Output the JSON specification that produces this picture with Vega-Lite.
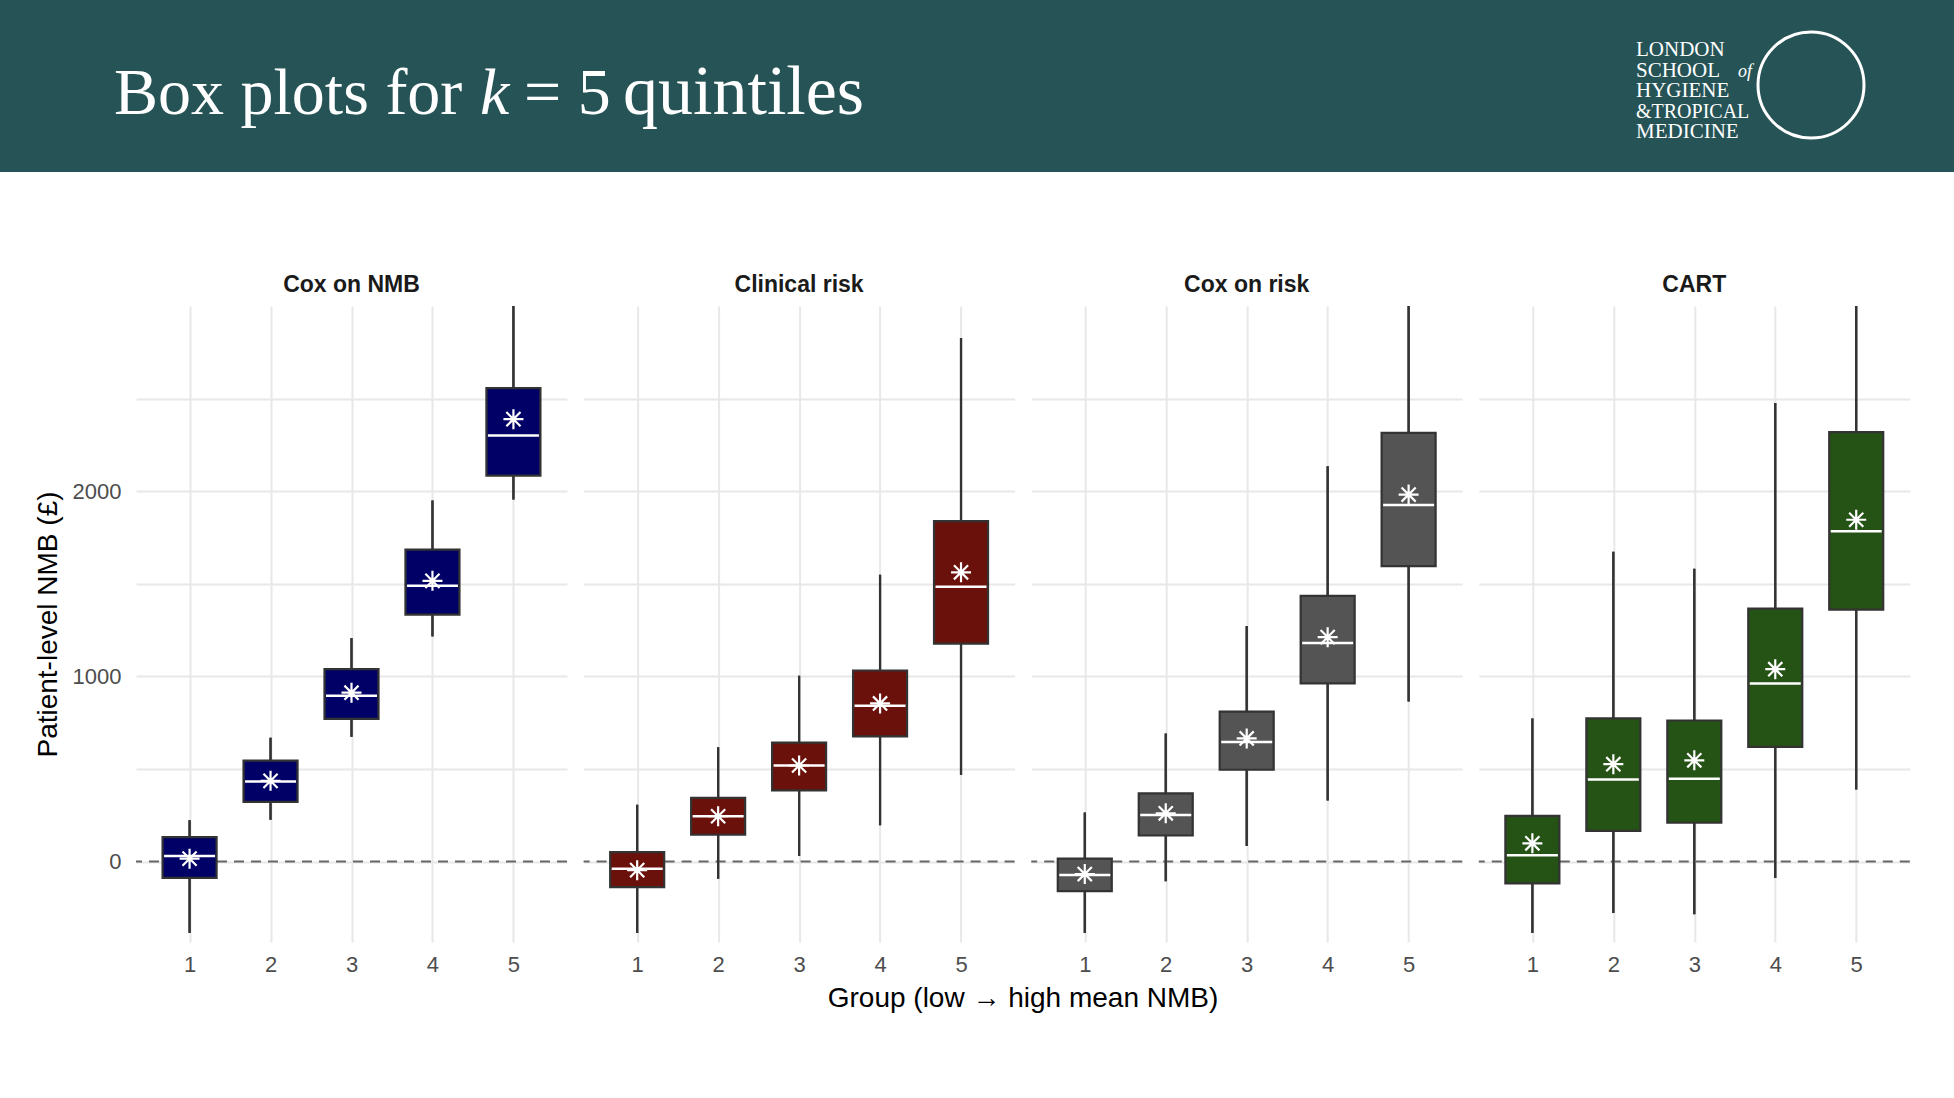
{
  "$schema": "https://vega.github.io/schema/vega-lite/v6.json",
  "padding": 0,
  "background": "white",
  "spacing": 102,
  "config": {
    "view": {"stroke": null},
    "font": "Liberation Sans",
    "axis": {
      "domain": false,
      "ticks": false,
      "tickSize": 0,
      "grid": true,
      "gridColor": "#e8e8e8",
      "gridWidth": 2,
      "labelFont": "Liberation Sans",
      "labelFontSize": 22,
      "labelColor": "#4d4d4d",
      "titleFont": "Liberation Sans",
      "titleFontSize": 28,
      "titleFontWeight": "normal",
      "titleColor": "black"
    },
    "axisY": {"grid": true}
  },
  "vconcat": [
    {
      "width": 1954,
      "height": 172,
      "view": {"fill": "#265356", "stroke": null},
      "data": {"values": [{}]},
      "encoding": {
        "x": {"type": "quantitative", "scale": {"domain": [0, 1954], "range": [0, 1954]}, "axis": null},
        "y": {"type": "quantitative", "scale": {"domain": [0, 172], "range": [0, 172]}, "axis": null}
      },
      "layer": [
        {
          "mark": {"type": "text", "font": "Liberation Serif", "fontSize": 66, "color": "white", "align": "left", "baseline": "alphabetic"},
          "encoding": {"x": {"datum": 114}, "y": {"datum": 114}, "text": {"value": "Box plots for"}}
        },
        {
          "mark": {"type": "text", "font": "Liberation Serif", "fontSize": 66, "fontStyle": "italic", "color": "white", "align": "left", "baseline": "alphabetic"},
          "encoding": {"x": {"datum": 480}, "y": {"datum": 114}, "text": {"value": "k"}}
        },
        {
          "mark": {"type": "text", "font": "Liberation Serif", "fontSize": 66, "color": "white", "align": "left", "baseline": "alphabetic"},
          "encoding": {"x": {"datum": 524}, "y": {"datum": 114}, "text": {"value": "= 5"}}
        },
        {
          "mark": {"type": "text", "font": "Liberation Serif", "fontSize": 70, "color": "white", "align": "left", "baseline": "alphabetic"},
          "encoding": {"x": {"datum": 623}, "y": {"datum": 114}, "text": {"value": "quintiles"}}
        },
        {
          "mark": {"type": "text", "font": "Liberation Serif", "fontSize": 21, "color": "white", "align": "left", "baseline": "alphabetic"},
          "encoding": {"x": {"datum": 1636}, "y": {"datum": 56}, "text": {"value": "LONDON"}}
        },
        {
          "mark": {"type": "text", "font": "Liberation Serif", "fontSize": 21, "color": "white", "align": "left", "baseline": "alphabetic"},
          "encoding": {"x": {"datum": 1636}, "y": {"datum": 76.5}, "text": {"value": "SCHOOL"}}
        },
        {
          "mark": {"type": "text", "font": "Liberation Serif", "fontSize": 18, "fontStyle": "italic", "color": "white", "align": "left", "baseline": "alphabetic"},
          "encoding": {"x": {"datum": 1738}, "y": {"datum": 76.5}, "text": {"value": "of"}}
        },
        {
          "mark": {"type": "text", "font": "Liberation Serif", "fontSize": 21, "color": "white", "align": "left", "baseline": "alphabetic"},
          "encoding": {"x": {"datum": 1636}, "y": {"datum": 97}, "text": {"value": "HYGIENE"}}
        },
        {
          "mark": {"type": "text", "font": "Liberation Serif", "fontSize": 20, "color": "white", "align": "left", "baseline": "alphabetic"},
          "encoding": {"x": {"datum": 1636}, "y": {"datum": 117.5}, "text": {"value": "&TROPICAL"}}
        },
        {
          "mark": {"type": "text", "font": "Liberation Serif", "fontSize": 21, "color": "white", "align": "left", "baseline": "alphabetic"},
          "encoding": {"x": {"datum": 1636}, "y": {"datum": 138}, "text": {"value": "MEDICINE"}}
        },
        {
          "mark": {"type": "point", "shape": "circle", "size": 11236, "filled": false, "stroke": "white", "strokeWidth": 3, "opacity": 1},
          "encoding": {"x": {"datum": 1811}, "y": {"datum": 85}}
        }
      ]
    },
    {
      "spacing": 20,
      "hconcat": [
        {
          "width": 14,
          "height": 10,
          "data": {"values": []},
          "mark": "point"
        },
        {
          "data": {
            "values": [
              {"model": "Cox on NMB", "group": 1, "lo": -385, "q1": -88, "med": 30, "q3": 132, "hi": 224, "mean": 16},
              {"model": "Cox on NMB", "group": 2, "lo": 226, "q1": 323, "med": 432, "q3": 545, "hi": 669, "mean": 436},
              {"model": "Cox on NMB", "group": 3, "lo": 674, "q1": 771, "med": 895, "q3": 1039, "hi": 1207, "mean": 912},
              {"model": "Cox on NMB", "group": 4, "lo": 1216, "q1": 1334, "med": 1489, "q3": 1685, "hi": 1950, "mean": 1516},
              {"model": "Cox on NMB", "group": 5, "lo": 1955, "q1": 2084, "med": 2301, "q3": 2557, "hi": 3200, "mean": 2389},
              {"model": "Clinical risk", "group": 1, "lo": -385, "q1": -138, "med": -39, "q3": 51, "hi": 307, "mean": -46},
              {"model": "Clinical risk", "group": 2, "lo": -92, "q1": 145, "med": 245, "q3": 344, "hi": 618, "mean": 245},
              {"model": "Clinical risk", "group": 3, "lo": 30, "q1": 385, "med": 519, "q3": 642, "hi": 1004, "mean": 519},
              {"model": "Clinical risk", "group": 4, "lo": 196, "q1": 676, "med": 842, "q3": 1032, "hi": 1549, "mean": 854},
              {"model": "Clinical risk", "group": 5, "lo": 468, "q1": 1177, "med": 1484, "q3": 1839, "hi": 2827, "mean": 1562},
              {"model": "Cox on risk", "group": 1, "lo": -385, "q1": -159, "med": -72, "q3": 16, "hi": 265, "mean": -67},
              {"model": "Cox on risk", "group": 2, "lo": -106, "q1": 141, "med": 252, "q3": 369, "hi": 692, "mean": 261},
              {"model": "Cox on risk", "group": 3, "lo": 85, "q1": 496, "med": 646, "q3": 810, "hi": 1272, "mean": 665},
              {"model": "Cox on risk", "group": 4, "lo": 330, "q1": 962, "med": 1181, "q3": 1435, "hi": 2135, "mean": 1212},
              {"model": "Cox on risk", "group": 5, "lo": 865, "q1": 1595, "med": 1925, "q3": 2315, "hi": 3300, "mean": 1982},
              {"model": "CART", "group": 1, "lo": -385, "q1": -118, "med": 35, "q3": 247, "hi": 773, "mean": 99},
              {"model": "CART", "group": 2, "lo": -277, "q1": 166, "med": 443, "q3": 773, "hi": 1673, "mean": 526},
              {"model": "CART", "group": 3, "lo": -284, "q1": 210, "med": 448, "q3": 762, "hi": 1581, "mean": 547},
              {"model": "CART", "group": 4, "lo": -88, "q1": 620, "med": 962, "q3": 1366, "hi": 2476, "mean": 1039},
              {"model": "CART", "group": 5, "lo": 390, "q1": 1361, "med": 1784, "q3": 2319, "hi": 3300, "mean": 1846}
            ]
          },
          "facet": {
            "column": {
              "field": "model",
              "type": "nominal",
              "sort": ["Cox on NMB", "Clinical risk", "Cox on risk", "CART"],
              "title": "Group (low → high mean NMB)",
              "header": {
                "labelFont": "Liberation Sans",
                "labelFontSize": 23,
                "labelFontWeight": "bold",
                "labelColor": "#1a1a1a",
                "labelPadding": 9,
                "titleOrient": "bottom",
                "titleFont": "Liberation Sans",
                "titleFontSize": 28,
                "titleFontWeight": "normal",
                "titleColor": "black",
                "titlePadding": 0
              }
            }
          },
          "spacing": {"column": 14.6},
          "spec": {
            "width": 431,
            "height": 636,
            "layer": [
              {
                "mark": {"type": "rule", "color": "#333333", "strokeWidth": 2.2, "clip": true},
                "encoding": {
                  "x": {
                    "field": "group",
                    "type": "quantitative",
                    "scale": {"domain": [0.4, 5.6], "nice": false, "zero": false},
                    "axis": {"values": [1, 2, 3, 4, 5], "format": "d", "title": null, "labelPadding": 12, "grid": true}
                  },
                  "y": {
                    "field": "lo",
                    "type": "quantitative",
                    "scale": {"domain": [-434, 3000], "nice": false, "zero": false},
                    "axis": {
                      "title": "Patient-level NMB (£)",
                      "values": [0, 500, 1000, 1500, 2000, 2500],
                      "format": "d",
                      "labelExpr": "datum.value % 1000 === 0 ? datum.label : ''",
                      "labelPadding": 14,
                      "titlePadding": 10,
                      "grid": true,
                      "gridColor": "#e8e8e8",
                      "gridWidth": 2
                    }
                  },
                  "y2": {"field": "hi"}
                }
              },
              {
                "transform": [{"filter": "datum.group == 1"}],
                "mark": {"type": "rule", "color": "#666666", "strokeWidth": 2, "strokeDash": [10, 7]},
                "encoding": {"y": {"datum": 0, "type": "quantitative"}}
              },
              {
                "mark": {"type": "rule", "color": "#333333", "strokeWidth": 2.2, "clip": true},
                "encoding": {
                  "x": {"field": "group", "type": "quantitative"},
                  "y": {"field": "lo", "type": "quantitative"},
                  "y2": {"field": "hi"}
                }
              },
              {
                "mark": {"type": "bar", "width": 54, "stroke": "#333333", "strokeWidth": 2.2, "opacity": 1},
                "encoding": {
                  "x": {"field": "group", "type": "quantitative"},
                  "y": {"field": "q1", "type": "quantitative"},
                  "y2": {"field": "q3"},
                  "color": {
                    "field": "model",
                    "type": "nominal",
                    "scale": {"domain": ["Cox on NMB", "Clinical risk", "Cox on risk", "CART"], "range": ["#000066", "#6b110b", "#545454", "#255215"]},
                    "legend": null
                  }
                }
              },
              {
                "mark": {"type": "tick", "orient": "horizontal", "color": "white", "size": 51, "thickness": 2.5, "opacity": 1},
                "encoding": {
                  "x": {"field": "group", "type": "quantitative"},
                  "y": {"field": "med", "type": "quantitative"}
                }
              },
              {
                "mark": {"type": "point", "shape": "M-1,0H1M0,-1V1M-0.707,-0.707L0.707,0.707M-0.707,0.707L0.707,-0.707", "size": 400, "filled": false, "stroke": "white", "strokeWidth": 2.2, "opacity": 1},
                "encoding": {
                  "x": {"field": "group", "type": "quantitative"},
                  "y": {"field": "mean", "type": "quantitative"}
                }
              }
            ]
          }
        }
      ]
    }
  ]
}
